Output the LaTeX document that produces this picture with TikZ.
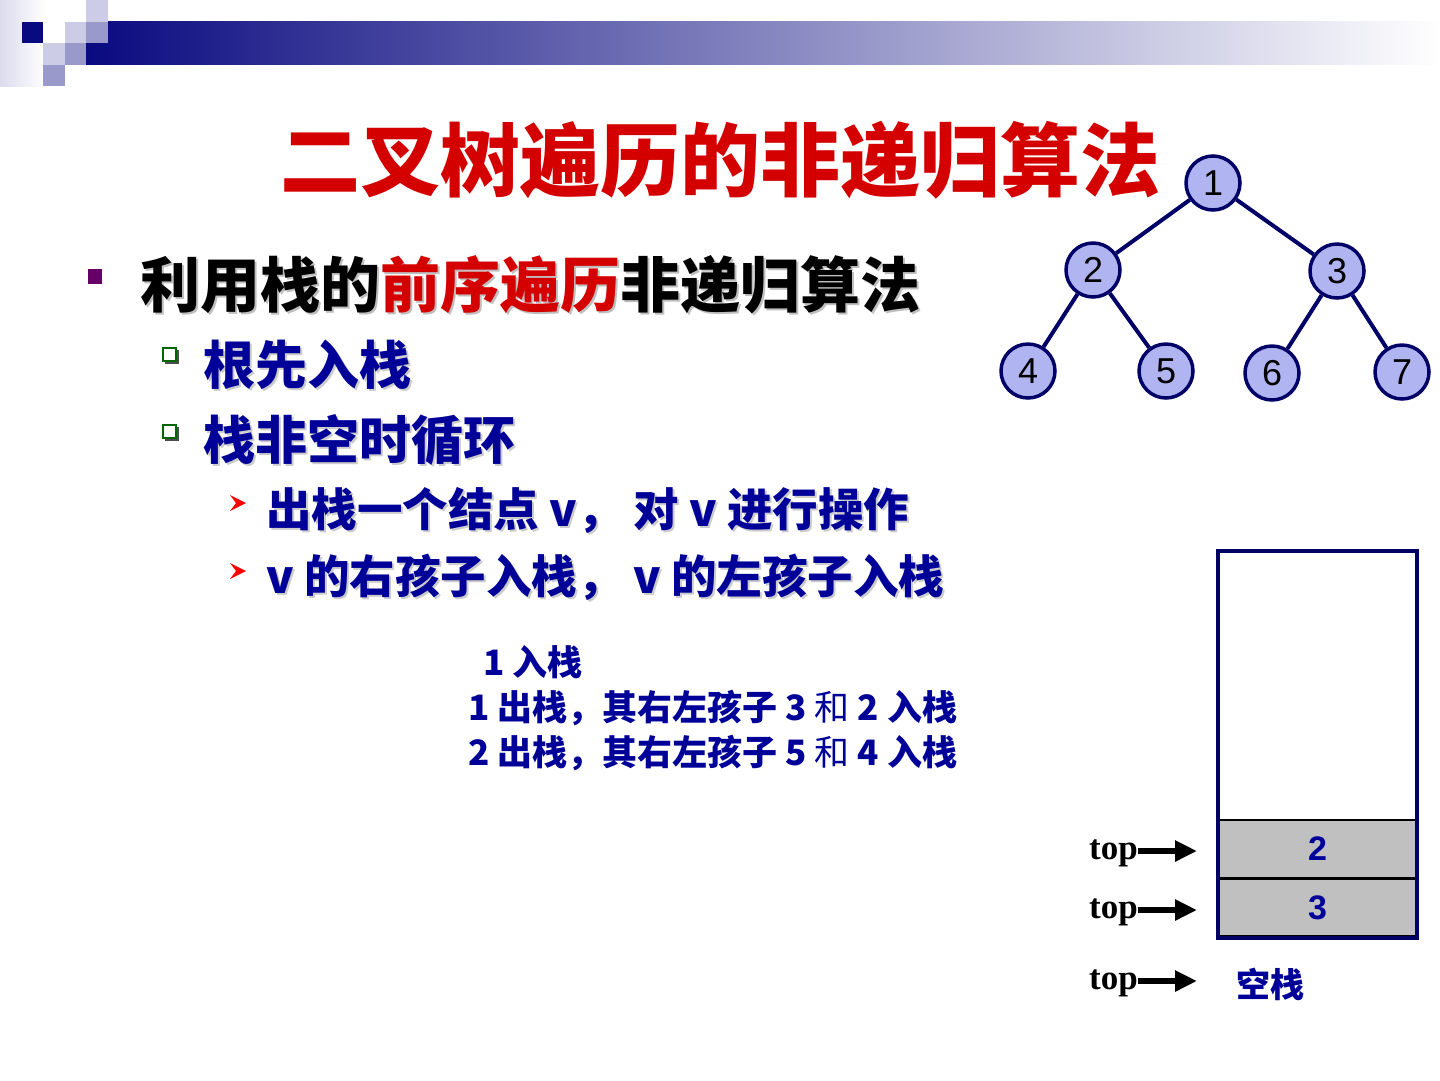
\documentclass[tikz,border=0pt]{standalone}
\usepackage{fontspec}
\setmainfont{Liberation Sans}
\newfontfamily\cjk{Noto Sans CJK SC}
\newfontfamily\serifb{Liberation Serif}
\usetikzlibrary{arrows.meta}
\definecolor{tred}{HTML}{D40000}
\definecolor{tnavy}{HTML}{000099}
\definecolor{bnavy}{HTML}{0A0A80}
\definecolor{edgenavy}{HTML}{000066}
\definecolor{nodefill}{HTML}{B0B4F0}
\definecolor{lav1}{HTML}{CCCCE6}
\definecolor{lav2}{HTML}{9999CC}
\definecolor{bulpurple}{HTML}{660066}
\definecolor{bulgreen}{HTML}{006600}
\definecolor{cellgray}{HTML}{C0C0C0}
\newcommand{\fsz}[1]{\fontsize{#1}{#1}\selectfont}
\tikzset{
  treenode/.style={circle, draw=edgenavy, line width=3.5pt, fill=nodefill, minimum size=54pt, inner sep=0pt, font=\fsz{36}},
  treeedge/.style={draw=edgenavy, line width=4pt},
  txt/.style={anchor=west, inner sep=0pt},
  cellbox/.style={draw=black, line width=2.5pt, fill=cellgray, minimum width=197pt, minimum height=58pt, inner sep=0pt, text=tnavy, font=\fsz{34}\bfseries},
  topl/.style={anchor=east, inner sep=0pt, font=\serifb\bfseries\fsz{35}},
  toparrow/.style={line width=6pt, -{Triangle[length=22pt,width=20pt]}}
}
\begin{document}
\begin{tikzpicture}[x=1pt,y=-1pt]
\useasboundingbox (0,0) rectangle (1440,1080);
\fill[white] (0,0) rectangle (1440,1080);
% header decoration
\shade[left color=lav1!70, right color=white] (0,0) rectangle (45,86);
\shade[left color=bnavy, right color=white] (86,21) rectangle (1440,64);
\fill[bnavy] (21.5,21.5) rectangle (43,43);
\fill[white] (43,21.5) rectangle (64.5,43);
\fill[lav1] (64.5,21.5) rectangle (86,43);
\fill[lav2] (86,21.5) rectangle (107.5,43);
\fill[lav1] (86,0) rectangle (107.5,21.5);
\fill[lav1] (43,43) rectangle (64.5,64.5);
\fill[lav2] (64.5,43) rectangle (86,64.5);
\fill[lav2] (43,64.5) rectangle (64.5,86);
% title
\node[inner sep=0pt, text=tred] (title) at (720,160) {\cjk\bfseries\fsz{80}二叉树遍历的非递归算法};
% bullets
\fill[bulpurple] (88,269) rectangle (102,284);
\node[txt, text=gray!50] (l1s) at (142,287) {\cjk\bfseries\fsz{60}利用栈的前序遍历非递归算法};
\node[txt] (l1) at (140,285) {\cjk\bfseries\fsz{60}利用栈的\textcolor{tred}{前序遍历}非递归算法};
\foreach \yy in {348,425}{
  \fill[black!70] (165,\yy+2) rectangle (179,\yy+16);
  \filldraw[draw=bulgreen, fill=white, line width=1.5pt] (163,\yy) rectangle (176,\yy+13);
}
\node[txt, text=gray!40] (l2as) at (205,367) {\cjk\bfseries\fsz{52}根先入栈};
\node[txt, text=tnavy] (l2a) at (203,365) {\cjk\bfseries\fsz{52}根先入栈};
\node[txt, text=gray!40] (l2bs) at (205,442) {\cjk\bfseries\fsz{52}栈非空时循环};
\node[txt, text=tnavy] (l2b) at (203,440) {\cjk\bfseries\fsz{52}栈非空时循环};
\foreach \yy in {503,571}{
  \fill[red] (230,\yy-8) -- (246,\yy) -- (230,\yy+8) -- (236,\yy) -- cycle;
}
\node[txt, text=gray!40] (l3as) at (268,512) {\cjk\bfseries\fsz{45.5}出栈一个结点 v， 对 v 进行操作};
\node[txt, text=tnavy] (l3a) at (266,510) {\cjk\bfseries\fsz{45.5}出栈一个结点 v， 对 v 进行操作};
\node[txt, text=gray!40] (l3bs) at (268,579) {\cjk\bfseries\fsz{45.5}v 的右孩子入栈， v 的左孩子入栈};
\node[txt, text=tnavy] (l3b) at (266,577) {\cjk\bfseries\fsz{45.5}v 的右孩子入栈， v 的左孩子入栈};
% explanation block
\node[txt, text=tnavy] (e1) at (483,662) {\cjk\bfseries\fsz{35}1 入栈};
\node[txt, text=tnavy] (e2) at (468,708) {\cjk\bfseries\fsz{35}1 出栈，其右左孩子 3 {\mdseries 和} 2 入栈};
\node[txt, text=tnavy] (e3) at (468,753) {\cjk\bfseries\fsz{35}2 出栈，其右左孩子 5 {\mdseries 和} 4 入栈};
% tree
\node[treenode] (n1) at (1213,183) {1};
\node[treenode] (n2) at (1093,270) {2};
\node[treenode] (n3) at (1337,271) {3};
\node[treenode] (n4) at (1028,371) {4};
\node[treenode] (n5) at (1166,371) {5};
\node[treenode] (n6) at (1272,373) {6};
\node[treenode] (n7) at (1402,372) {7};
\draw[treeedge] (n1) -- (n2);
\draw[treeedge] (n1) -- (n3);
\draw[treeedge] (n2) -- (n4);
\draw[treeedge] (n2) -- (n5);
\draw[treeedge] (n3) -- (n6);
\draw[treeedge] (n3) -- (n7);
% stack
\node[cellbox] (c2) at (1317.5,849) {2};
\node[cellbox] (c3) at (1317.5,907.5) {3};
\node[draw=edgenavy, line width=3.5pt, minimum width=199pt, minimum height=387pt, inner sep=0pt] (stack) at (1317.5,744.5) {};
% top arrows
\node[topl] (t1) at (1138,853) {top};
\node[topl] (t2) at (1138,912) {top};
\node[topl] (t3) at (1138,983) {top};
\coordinate (a1) at (1197,851);
\coordinate (a2) at (1197,910);
\coordinate (a3) at (1197,981);
\draw[toparrow] (t1.east |- a1) -- (a1);
\draw[toparrow] (t2.east |- a2) -- (a2);
\draw[toparrow] (t3.east |- a3) -- (a3);
\node[inner sep=0pt, text=tnavy] (empty) at (1270,984) {\cjk\bfseries\fsz{34}空栈};
\end{tikzpicture}
\end{document}
